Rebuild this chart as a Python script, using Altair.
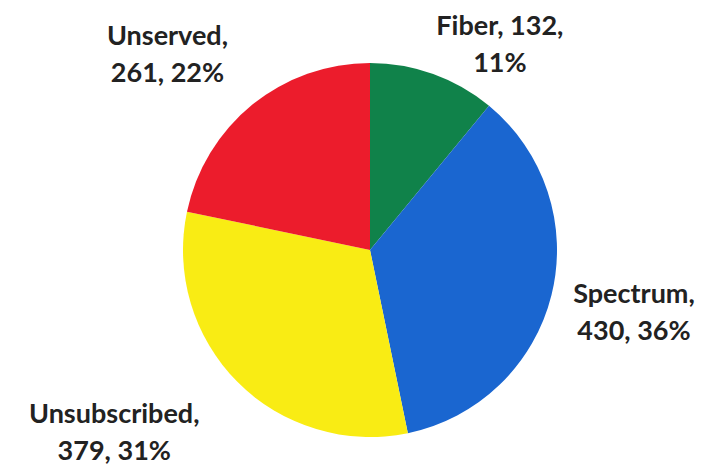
import altair as alt
import pandas as pd

categories = ["Fiber", "Spectrum", "Unsubscribed", "Unserved"]
counts = [132, 430, 379, 261]
percents = [11, 36, 31, 22]
colors = ["#10824a", "#1a66d0", "#f9ec14", "#ec1c2c"]

df = pd.DataFrame({
    "cat": categories,
    "count": counts,
    "idx": list(range(len(categories))),
    "label": [f"{c},\n{n}, {p}%" for c, n, p in zip(categories, counts, percents)],
})
# Fiber label breaks after the count in the reference
df.loc[df.cat == "Fiber", "label"] = "Fiber, 132,\n11%"

CX, CY = 362, 242

base = alt.Chart(df).encode(
    theta=alt.Theta("count:Q", stack=True),
    order=alt.Order("idx:Q"),
    color=alt.Color("cat:N", scale=alt.Scale(domain=categories, range=colors), legend=None),
    x=alt.value(CX),
    y=alt.value(CY),
)

pie = base.mark_arc(outerRadius=187, stroke=None)

label_pos = {
    "Fiber": (245, 47, 8),
    "Spectrum": (272, 0, -20),
    "Unsubscribed": (316, -32, -58),
    "Unserved": (280, -26, 4),
}

layers = [pie]
for cat, (r, dx, dy) in label_pos.items():
    layers.append(
        base.mark_text(
            radius=r, dx=dx, dy=dy, font="Lato", fontWeight="bold", fontSize=27,
            lineBreak="\n", lineHeight=37, align="center", baseline="middle",
        ).encode(
            text=alt.condition(alt.datum.cat == cat, alt.Text("label:N"), alt.value("")),
            color=alt.value("#222222"),
        )
    )

chart = alt.layer(*layers).properties(
    width=695, height=464, padding=0,
    autosize=alt.AutoSizeParams(type="none"),
).configure_view(stroke=None)

chart.save("out.html", embed_options={"renderer": "svg", "actions": False})
